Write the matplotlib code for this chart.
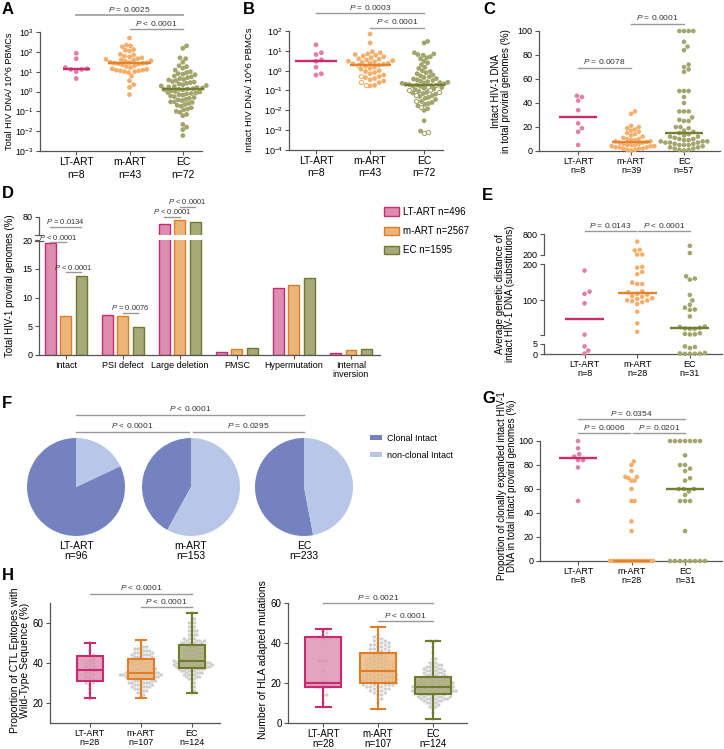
import numpy as np
import matplotlib.pyplot as plt
from matplotlib import transforms
from matplotlib.patches import Patch
from matplotlib.ticker import NullLocator

plt.rcParams['font.family'] = ['Liberation Sans', 'DejaVu Sans']
plt.rcParams['mathtext.fontset'] = 'custom'
plt.rcParams['mathtext.it'] = 'Liberation Sans:italic'
plt.rcParams['mathtext.rm'] = 'Liberation Sans'

# ---------------- data ----------------
groups = ['LT-ART', 'm-ART', 'EC']

# A: total HIV DNA / 10^6 PBMCs
lt_A = [85, 45, 16, 14, 13, 13, 10, 4.5]
m_A = [500, 220, 200, 180, 130, 120, 110, 75, 70, 60, 55, 50, 45, 42, 40, 38, 35, 33, 30, 29,
       28, 27, 26, 25, 24, 22, 20, 18, 16, 14, 13, 12, 12, 11, 11, 10, 10, 9, 6, 3.5, 2.2, 1.6, 0.7]
ec_A = [200, 150, 50, 45, 30, 20, 18, 15, 12, 10, 9, 8, 7.5, 7, 6, 5.5, 5, 4.5, 4, 3.8,
        3.5, 3.2, 3, 2.8, 2.6, 2.4, 2.2, 2, 1.9, 1.8, 1.7, 1.6, 1.5, 1.4, 1.35, 1.3, 1.25, 1.2, 1.1, 1.0,
        0.95, 0.9, 0.85, 0.8, 0.75, 0.7, 0.65, 0.6, 0.55, 0.5, 0.45, 0.4, 0.38, 0.35, 0.3, 0.28, 0.25,
        0.22, 0.2, 0.18, 0.15, 0.13, 0.12, 0.1, 0.09, 0.07, 0.06, 0.022, 0.016, 0.012, 0.006, 0.3]
n_A = [8, 43, 72]

# B: intact HIV DNA / 10^6 PBMCs (open circles kept in separate lists)
lt_B = [20, 8, 6.5, 3.5, 3, 1.5, 0.7, 0.6]
m_B = [70, 25, 9, 8, 7, 6.5, 6, 5.5, 5, 4.5, 4, 3.8, 3.5, 3.2, 3, 2.8, 2.6, 2.4, 2.3, 2.2,
       2.1, 1.9, 1.7, 1.5, 1.3, 1.2, 1.0, 0.9, 0.8, 0.7, 0.6, 0.5, 0.45, 0.4, 0.35, 0.3, 0.25,
       0.18, 0.17]
m_B_open = [2.0, 0.55, 0.27, 0.2]
ec_B = [30, 25, 8, 7, 6.5, 6, 5, 4.5, 4, 3, 2.5, 2, 1.5, 1.3, 1.0, 0.9, 0.8, 0.7, 0.6, 0.55,
        0.5, 0.45, 0.4, 0.38, 0.35, 0.32, 0.3, 0.28, 0.26, 0.25, 0.24, 0.23, 0.22, 0.21, 0.2,
        0.19, 0.18, 0.17, 0.16, 0.14, 0.13, 0.12, 0.11, 0.09, 0.08, 0.075, 0.07, 0.065, 0.055,
        0.05, 0.045, 0.04, 0.035, 0.028, 0.025, 0.022, 0.02, 0.017, 0.012, 0.01, 0.003, 0.0009]
ec_B_open = [0.2, 0.15, 0.1, 0.1, 0.085, 0.06, 0.03, 0.015, 0.0008, 0.0007]

# C: intact HIV-1 DNA in total proviral genomes (%)
lt_C = [46, 45, 42, 34, 23, 19, 16, 5]
m_C = [33, 31, 21, 20, 19, 18, 17, 16, 15, 14, 13, 12, 11, 10, 10, 9, 9, 8, 8, 7.5,
       7, 7, 6, 6, 5, 5, 5, 4, 4, 4, 3, 3, 3, 2, 2, 2, 1, 1, 0.5]
ec_C = [100, 100, 100, 100, 91, 87, 84, 72, 70, 68, 66, 50, 50, 50, 45, 40, 33, 33, 33, 28,
        26, 25, 25, 20, 20, 19, 17, 16, 15, 14, 13, 12, 12, 11, 10, 10, 9, 9, 8, 8,
        8, 7, 7, 7, 6, 6, 5, 5, 5, 4, 3, 3, 2, 2, 1, 1, 0.5]
n_C = [8, 39, 57]

# D: proviral genome categories (%)
d_cats = ['Intact', 'PSI defect', 'Large deletion', 'PMSC', 'Hypermutation', 'Internal\ninversion']
d_lt = [19.4, 7.0, 72, 0.5, 11.7, 0.3]
d_m = [6.8, 6.7, 77, 1.1, 12.2, 0.8]
d_ec = [13.8, 4.9, 75, 1.3, 13.4, 1.1]
d_legend = ['LT-ART n=496', 'm-ART n=2567', 'EC n=1595']

# E: average genetic distance of intact HIV-1 DNA
lt_E = [182, 124, 118, 92, 6, 3.8, 1.7, 0.2]
m_E = [584, 350, 330, 215, 210, 192, 190, 178, 172, 149, 145, 145, 125, 122, 118, 116, 112, 110,
       106, 104, 100, 100, 98, 95, 90, 69, 37, 14]
ec_E = [462, 256, 166, 160, 157, 115, 100, 88, 80, 75, 74, 56, 28, 27, 25, 23, 22, 22, 10, 8,
        7, 6.5, 3.8, 3.5, 3, 0.5, 0.3, 0.2, 0.1, 0.1, 0.1]
n_E = [8, 28, 31]

# F: clonal intact share (%)
f_clonal = [82, 42, 53]
f_n = [96, 153, 233]

# G: clonally expanded intact HIV-1 DNA (%)
lt_G = [100, 94, 89, 87, 84, 84, 78, 50]
m_G = [83, 80, 75, 70, 70, 69, 67, 67, 60, 50, 50, 33, 25] + [0] * 15
ec_G = [100] * 7 + [88, 80, 80, 77, 75, 69, 67, 60, 60, 60, 58, 55, 50, 50, 50, 25] + [0] * 8
n_G = [8, 28, 31]

# H left: CTL epitopes with wild-type sequence (%)
ctl_lt = [50, 46, 44, 43, 42, 41, 40, 40, 39, 38, 38, 37, 36, 36, 35, 35, 34, 33, 33, 32,
          31, 31, 30, 30, 29, 27, 25, 22]
ctl_m_lv = [23, 24, 25, 26, 27, 28, 29, 30, 31, 32, 33, 34, 35, 36, 37, 38, 39, 40, 41,
            42, 43, 44, 45, 46, 47, 48, 51]
ctl_m_ct = [1, 1, 2, 2, 3, 4, 4, 5, 5, 5, 7, 8, 7, 5, 5, 4, 4, 5, 4, 5, 4, 4, 4, 3, 3, 2, 1]
ctl_ec_lv = [25, 26, 28, 30, 32, 33, 34, 35, 36, 37, 38, 39, 40, 41, 42, 43, 44, 45, 46, 47,
             48, 49, 50, 51, 52, 54, 56, 58, 60, 62, 65]
ctl_ec_ct = [1, 1, 2, 2, 3, 3, 4, 4, 5, 6, 8, 8, 8, 7, 5, 4, 4, 4, 4, 4, 3, 3, 6, 4, 4, 4,
             4, 3, 3, 2, 1]
ctl_box = [dict(whislo=22.3, q1=31, med=36.3, q3=43.3, whishi=50),
           dict(whislo=22.5, q1=32, med=35.2, q3=42.2, whishi=51.5),
           dict(whislo=25, q1=37.5, med=41, q3=49, whishi=65.2)]

# H right: HLA adapted mutations
hla_lt = [47, 46, 45, 44, 43, 43, 42, 31, 31, 31, 26, 21, 20, 20, 20, 20, 19, 19, 19, 18,
          18, 18, 18, 17, 14, 14, 10, 8]
hla_m_lv = [7, 10, 12, 14, 15, 16, 17, 18, 19, 20, 21, 22, 23, 24, 25, 26, 27, 28, 29, 30,
            31, 32, 33, 34, 35, 36, 37, 38, 39, 40, 41, 42, 43, 44, 48]
hla_m_ct = [1, 1, 2, 2, 2, 3, 3, 4, 5, 5, 5, 5, 5, 5, 4, 3, 4, 4, 4, 4, 4, 3, 2, 2,
            3, 3, 3, 3, 3, 3, 2, 2, 1, 1, 1]
hla_ec_lv = [2, 5, 7, 8, 9, 10, 11, 12, 13, 14, 15, 16, 17, 18, 19, 20, 21, 22, 23, 24,
             25, 26, 27, 28, 29, 30, 32, 35, 38, 40, 41]
hla_ec_ct = [1, 1, 1, 2, 2, 3, 4, 6, 6, 5, 8, 8, 8, 7, 7, 7, 6, 6, 5, 4, 4, 4, 4, 3, 3,
             2, 2, 1, 1, 1, 2]
hla_box = [dict(whislo=8, q1=18, med=20, q3=43, whishi=47),
           dict(whislo=7, q1=20, med=26, q3=34.8, whishi=48),
           dict(whislo=2, q1=14.5, med=18, q3=23, whishi=41)]
n_H = [28, 107, 124]

# colours
dot_c = ['#e07fa8', '#f2b06c', '#a3a56c']
line_c = ['#cc2a6e', '#e5822c', '#727f2e']
bar_face = ['#dc8db0', '#ebb57a', '#a8a978']
bar_edge = ['#c92a72', '#e07d28', '#6f7a2c']
pie_c = ['#7482c0', '#b8c7e8']

# ---------------- helpers ----------------
W, H = 724, 749
fig = plt.figure(figsize=(W / 100, H / 100), dpi=100)


def add_ax(l, t, r, b):
    return fig.add_axes([l / W, 1 - b / H, (r - l) / W, (b - t) / H])


def prism(ax, fs=7):
    for s in ['top', 'right']:
        ax.spines[s].set_visible(False)
    for s in ['left', 'bottom']:
        ax.spines[s].set_color('#555')
        ax.spines[s].set_linewidth(0.9)
    ax.tick_params(direction='out', length=3, width=0.8, color='#555', labelsize=fs, pad=1.5)
    ax.patch.set_alpha(0)


def cat_labels(ax, labels, fs, ls):
    ax.set_xticks(range(len(labels)))
    ax.set_xticklabels(labels, fontsize=fs)
    for t in ax.get_xticklabels():
        t.set_linespacing(ls)


def swarm_x(ax, x0, vals, d, maxw):
    pts = ax.transData.transform(np.column_stack([np.full(len(vals), float(x0)), vals]))
    placed = []
    off = np.zeros(len(vals))
    steps = [0.0] + [s * k * d * 0.25 for k in range(1, 300) for s in (1, -1)]
    for i in np.argsort(pts[:, 1]):
        y = pts[i, 1]
        near = [(px, py) for px, py in placed if abs(py - y) < d]
        c = 0.0
        for c in steps:
            if all((c - px) ** 2 + (y - py) ** 2 >= d * d * 0.92 for px, py in near):
                break
        placed.append((c, y))
        off[i] = c
    # squeeze the swarm into the allowed half-width
    unit = ax.transData.transform([[1, 1]])[0, 0] - ax.transData.transform([[0, 1]])[0, 0]
    lim = maxw * unit
    if np.abs(off).max() > lim:
        off = off * lim / np.abs(off).max()
    back = ax.transData.inverted().transform(np.column_stack([pts[:, 0] + off, pts[:, 1]]))
    return back[:, 0]


def dots(ax, x0, vals, color, d=5.4, s=12, open_vals=None, maxw=0.42, z=3):
    vals = np.asarray(vals, float)
    hollow = np.zeros(len(vals), bool)
    if open_vals:
        vals = np.concatenate([vals, np.asarray(open_vals, float)])
        hollow = np.concatenate([hollow, np.ones(len(open_vals), bool)])
    if len(vals) == 0:
        return
    xs = swarm_x(ax, x0, vals, d, maxw)
    ax.scatter(xs[~hollow], vals[~hollow], s=s, color=color, edgecolors='none', zorder=z, clip_on=False)
    if hollow.any():
        ax.scatter(xs[hollow], vals[hollow], s=s * 0.75, facecolors='white', edgecolors=color,
                   linewidths=0.8, zorder=z + 0.1, clip_on=False)


def med_line(ax, x0, vals, color, hw=0.37):
    m = np.median(vals)
    ax.plot([x0 - hw, x0 + hw], [m, m], color=color, lw=1.7, zorder=4, solid_capstyle='butt',
            clip_on=False)


def bracket(ax, x1, x2, ypix, text, fs=6, color='#999', lw=1.0, gap=1.5):
    tr = transforms.blended_transform_factory(ax.transData, fig.transFigure)
    y = 1 - ypix / H
    ax.plot([x1, x2], [y, y], transform=tr, color=color, lw=lw, clip_on=False)
    ax.text((x1 + x2) / 2, 1 - (ypix - gap) / H, text, transform=tr, ha='center', va='bottom',
            fontsize=fs, color='#333', clip_on=False)


def fbracket(x1, x2, ypix, text, fs=6, color='#999', lw=1.0):
    fig.add_artist(plt.Line2D([x1 / W, x2 / W], [1 - ypix / H] * 2, color=color, lw=lw))
    fig.text((x1 + x2) / 2 / W, 1 - (ypix - 2) / H, text, ha='center', va='bottom', fontsize=fs,
             color='#333')


def ylab(x, y, s, fs=7, ls=1.1):
    fig.text(x / W, 1 - y / H, s, rotation=90, fontsize=fs, ha='center', va='center',
             linespacing=ls)


def letter(x, y, s):
    fig.text(x / W, 1 - y / H, s, fontsize=12, fontweight='bold', va='center', ha='left')


# ---------------- A ----------------
axA = add_ax(40, 32, 202, 151)
prism(axA, 6.3)
axA.set_yscale('log')
axA.set_ylim(1e-3, 1e3)
axA.set_xlim(-0.68, 2.36)
axA.set_yticks([10.0 ** k for k in range(-3, 4)])
axA.yaxis.set_minor_locator(NullLocator())
cat_labels(axA, [f'{g}\nn={n}' for g, n in zip(groups, n_A)], 7.5, 1.35)
for i, v in enumerate([lt_A, m_A, ec_A]):
    dots(axA, i, v, dot_c[i], maxw=0.3 if i == 0 else 0.44)
    med_line(axA, i, v, line_c[i], hw=0.25 if i == 0 else 0.4)
ylab(10, 91, 'Total HIV DNA/ 10^6 PBMCs', fs=6.6)
bracket(axA, 0, 2, 15, '$P$ = 0.0025', color='#aaa', lw=1.4)
bracket(axA, 1, 2, 29, '$P$ < 0.0001')
letter(2, 10, 'A')

# ---------------- B ----------------
axB = add_ax(289, 31, 443, 150)
prism(axB, 6.5)
axB.set_yscale('log')
axB.set_ylim(1e-4, 1e2)
axB.set_xlim(-0.5, 2.35)
axB.set_yticks([10.0 ** k for k in range(-4, 3)])
axB.yaxis.set_minor_locator(NullLocator())
cat_labels(axB, [f'{g}\nn={n}' for g, n in zip(groups, n_A)], 7.5, 1.25)
dots(axB, 0, lt_B, dot_c[0], maxw=0.3)
dots(axB, 1, m_B, dot_c[1], open_vals=m_B_open, maxw=0.42)
dots(axB, 2, ec_B, dot_c[2], open_vals=ec_B_open, maxw=0.44)
for i, v in enumerate([lt_B, m_B + m_B_open, ec_B + ec_B_open]):
    med_line(axB, i, v, line_c[i], hw=0.38)
ylab(250, 90, 'Intact HIV DNA/ 10^6 PBMCs', fs=6.8)
bracket(axB, 0, 2, 13, '$P$ = 0.0003')
bracket(axB, 1, 2, 28, '$P$ < 0.0001')
letter(243, 9, 'B')

# ---------------- C ----------------
axC = add_ax(539, 31, 720, 151)
prism(axC, 6.5)
axC.set_ylim(0, 100)
axC.set_xlim(-0.74, 2.68)
axC.set_yticks([0, 20, 40, 60, 80, 100])
cat_labels(axC, [f'{g}\nn={n}' for g, n in zip(groups, n_C)], 6.5, 0.95)
for i, v in enumerate([lt_C, m_C, ec_C]):
    dots(axC, i, v, dot_c[i], d=5.0, s=11, maxw=0.44)
    med_line(axC, i, v, line_c[i], hw=0.36)
ylab(501, 91, 'Intact HIV-1 DNA\nin total proviral genomes (%)')
bracket(axC, 0, 1, 68, '$P$ = 0.0078')
bracket(axC, 1, 2, 24, '$P$ = 0.0001')
letter(483, 9, 'C')

# ---------------- D ----------------
axD = add_ax(39, 240, 380, 355)
axD2 = add_ax(39, 217, 380, 235)
for ax in (axD, axD2):
    prism(ax, 6.5)
    ax.set_xlim(-0.47, 5.51)
axD.set_ylim(0, 20)
axD.set_yticks([0, 5, 10, 15, 20])
axD2.set_ylim(60, 80)
axD2.set_yticks([80])
axD2.spines['bottom'].set_visible(False)
axD2.set_xticks([])
axD.set_xticks(range(len(d_cats)))
axD.set_xticklabels(d_cats, fontsize=6.5, linespacing=0.95)
offs = [-0.27, 0, 0.27]
for k, vals in enumerate([d_lt, d_m, d_ec]):
    for ax in (axD, axD2):
        ax.bar(np.arange(len(vals)) + offs[k], vals, width=0.19, color=bar_face[k],
               edgecolor=bar_edge[k], linewidth=1.0, zorder=2)
for yy in (234.5, 240.5):
    fig.add_artist(plt.Line2D([35 / W, 43 / W], [1 - yy / H] * 2, color='#555', lw=0.8))
ylab(10, 286, 'Total HIV-1 proviral genomes (%)')
bracket(axD, -0.27, 0.27, 227, '$P$ = 0.0134', fs=5.5, gap=0.5)
bracket(axD, -0.27, 0, 242, '$P$ < 0.0001', fs=5.5, gap=0.5)
bracket(axD, 0, 0.27, 272, '$P$ < 0.0001', fs=5.5, gap=0.5)
bracket(axD, 1, 1.27, 313, '$P$ = 0.0076', fs=5.5, gap=0.5)
bracket(axD, 1.73, 2, 217, '$P$ < 0.0001', fs=5.5, gap=0.5)
bracket(axD, 2, 2.27, 207, '$P$ < 0.0001', fs=5.5, gap=0.5)
fig.legend([Patch(facecolor=bar_face[k], edgecolor=bar_edge[k], lw=1.0) for k in range(3)],
           d_legend, loc='upper left', bbox_to_anchor=(384 / W, 1 - 207 / H), frameon=False,
           fontsize=7, handlelength=1.5, handleheight=1.0, labelspacing=0.95, handletextpad=0.5,
           borderaxespad=0, borderpad=0)
letter(2, 194, 'D')

# ---------------- E ----------------
axE1 = add_ax(544, 234, 722, 255)
axE2 = add_ax(544, 264, 722, 335)
axE3 = add_ax(544, 344, 722, 354)
for ax in (axE1, axE2, axE3):
    prism(ax, 6.5)
    ax.set_xlim(-0.77, 2.61)
for ax in (axE1, axE2):
    ax.spines['bottom'].set_visible(False)
    ax.set_xticks([])
axE1.set_ylim(200, 800)
axE1.set_yticks([200, 800])
axE2.set_ylim(5, 200)
axE2.set_yticks([5, 100, 200])
axE2.set_yticklabels(['', '100', '200'])
axE3.set_ylim(0, 5)
axE3.set_yticks([0, 5])
cat_labels(axE3, [f'{g}\nn={n}' for g, n in zip(groups, n_E)], 6.5, 0.95)
for i, v in enumerate([lt_E, m_E, ec_E]):
    v = np.asarray(v, float)
    dots(axE1, i, v[v >= 200], dot_c[i], d=5.0, s=11, maxw=0.4)
    dots(axE2, i, v[(v >= 5) & (v < 200)], dot_c[i], d=5.0, s=11, maxw=0.4)
    dots(axE3, i, v[v < 5], dot_c[i], d=5.0, s=11, maxw=0.4)
    med_line(axE2, i, v, line_c[i], hw=0.37)
ylab(505, 294, 'Average genetic distance of\nintact HIV-1 DNA (substitutions)')
bracket(axE1, 0, 0.98, 231, '$P$ = 0.0143')
bracket(axE1, 1.02, 2, 231, '$P$ < 0.0001')
letter(482, 195, 'E')

# ---------------- F ----------------
pie_cx = [76, 191, 304]
for cx, cl, g, n in zip(pie_cx, f_clonal, groups, f_n):
    ax = add_ax(cx - 50, 437, cx + 50, 537)
    ax.pie([cl, 100 - cl], colors=pie_c, startangle=90, counterclock=True, radius=0.98,
           wedgeprops=dict(linewidth=0))
    ax.set_xlim(-1, 1)
    ax.set_ylim(-1, 1)
    ax.set_aspect('equal')
    ax.axis('off')
    fig.text(cx / W, 1 - 551 / H, f'{g}\nn={n}', ha='center', va='center', fontsize=7.5,
             linespacing=1.0)
fbracket(76, 304, 415, '$P$ < 0.0001')
fbracket(76, 189, 432, '$P$ < 0.0001')
fbracket(193, 304, 432, '$P$ = 0.0295')
fig.legend([Patch(facecolor=c, edgecolor='none') for c in pie_c], ['Clonal Intact', 'non-clonal Intact'],
           loc='upper left', bbox_to_anchor=(370 / W, 1 - 434 / H), frameon=False, fontsize=6.5,
           handlelength=1.3, handleheight=0.5, labelspacing=0.9, handletextpad=0.6,
           borderaxespad=0, borderpad=0)
letter(2, 403, 'F')

# ---------------- G ----------------
axG = add_ax(540, 441, 722, 561)
prism(axG, 6.5)
axG.set_ylim(0, 100)
axG.set_xlim(-0.71, 2.69)
axG.set_yticks([0, 20, 40, 60, 80, 100])
cat_labels(axG, [f'{g}\nn={n}' for g, n in zip(groups, n_G)], 6.5, 0.95)
for i, v in enumerate([lt_G, m_G, ec_G]):
    dots(axG, i, v, dot_c[i], d=5.0, s=11, maxw=0.4)
    med_line(axG, i, v, line_c[i], hw=0.35)
ylab(507, 486, 'Proportion of clonally expanded intact HIV-1\nDNA in total intact proviral genomes (%)')
bracket(axG, 0, 2, 419, '$P$ = 0.0354')
bracket(axG, 0, 0.98, 433, '$P$ = 0.0006')
bracket(axG, 1.02, 2, 433, '$P$ = 0.0201')
letter(482, 398, 'G')


# ---------------- H ----------------
def boxes(ax, stats, width, capw, pts, maxw):
    for i, v in enumerate(pts):
        dots(ax, i, v, '#cfcfcf', d=3.7, s=6, maxw=maxw, z=1.5)
    bp = ax.bxp(stats, positions=[0, 1, 2], widths=width, patch_artist=True, showfliers=False,
                capwidths=[capw] * 3, manage_ticks=False)
    for i in range(3):
        bp['boxes'][i].set_facecolor(bar_face[i] + 'cc')
        bp['boxes'][i].set_edgecolor(bar_edge[i])
        bp['boxes'][i].set_linewidth(1.5)
        bp['boxes'][i].set_zorder(4)
        bp['medians'][i].set_color(bar_edge[i])
        bp['medians'][i].set_linewidth(1.5)
        bp['medians'][i].set_zorder(5)
        for part in ('whiskers', 'caps'):
            for ln in bp[part][2 * i:2 * i + 2]:
                ln.set_color(bar_edge[i])
                ln.set_linewidth(1.5)
                ln.set_zorder(4)


axH1 = add_ax(50, 603, 220, 723)
prism(axH1, 7)
axH1.set_ylim(10, 70)
axH1.set_xlim(-0.78, 2.55)
axH1.set_yticks([20, 40, 60])
cat_labels(axH1, [f'{g}\nn={n}' for g, n in zip(groups, n_H)], 6.5, 0.95)
boxes(axH1, ctl_box, 0.5, 0.2,
      [ctl_lt, np.repeat(ctl_m_lv, ctl_m_ct), np.repeat(ctl_ec_lv, ctl_ec_ct)], 0.4)
ylab(20, 660, 'Proportion of CTL Epitopes with\nWild-Type Sequence (%)', fs=7.5)
bracket(axH1, 0, 2, 594, '$P$ < 0.0001')
bracket(axH1, 1, 2, 607, '$P$ < 0.0001')
letter(2, 575, 'H')

axH2 = add_ax(288, 603, 467, 723)
prism(axH2, 7)
axH2.set_ylim(0, 60)
axH2.set_xlim(-0.64, 2.62)
axH2.set_yticks([0, 20, 40, 60])
cat_labels(axH2, [f'{g}\nn={n}' for g, n in zip(groups, n_H)], 7, 0.95)
boxes(axH2, hla_box, 0.66, 0.27,
      [hla_lt, np.repeat(hla_m_lv, hla_m_ct), np.repeat(hla_ec_lv, hla_ec_ct)], 0.42)
ylab(263, 660, 'Number of HLA adapted mutations', fs=7.5)
bracket(axH2, 0, 2, 603, '$P$ = 0.0021')
bracket(axH2, 1, 2, 621, '$P$ < 0.0001')

fig.savefig('out.png', dpi=100)
